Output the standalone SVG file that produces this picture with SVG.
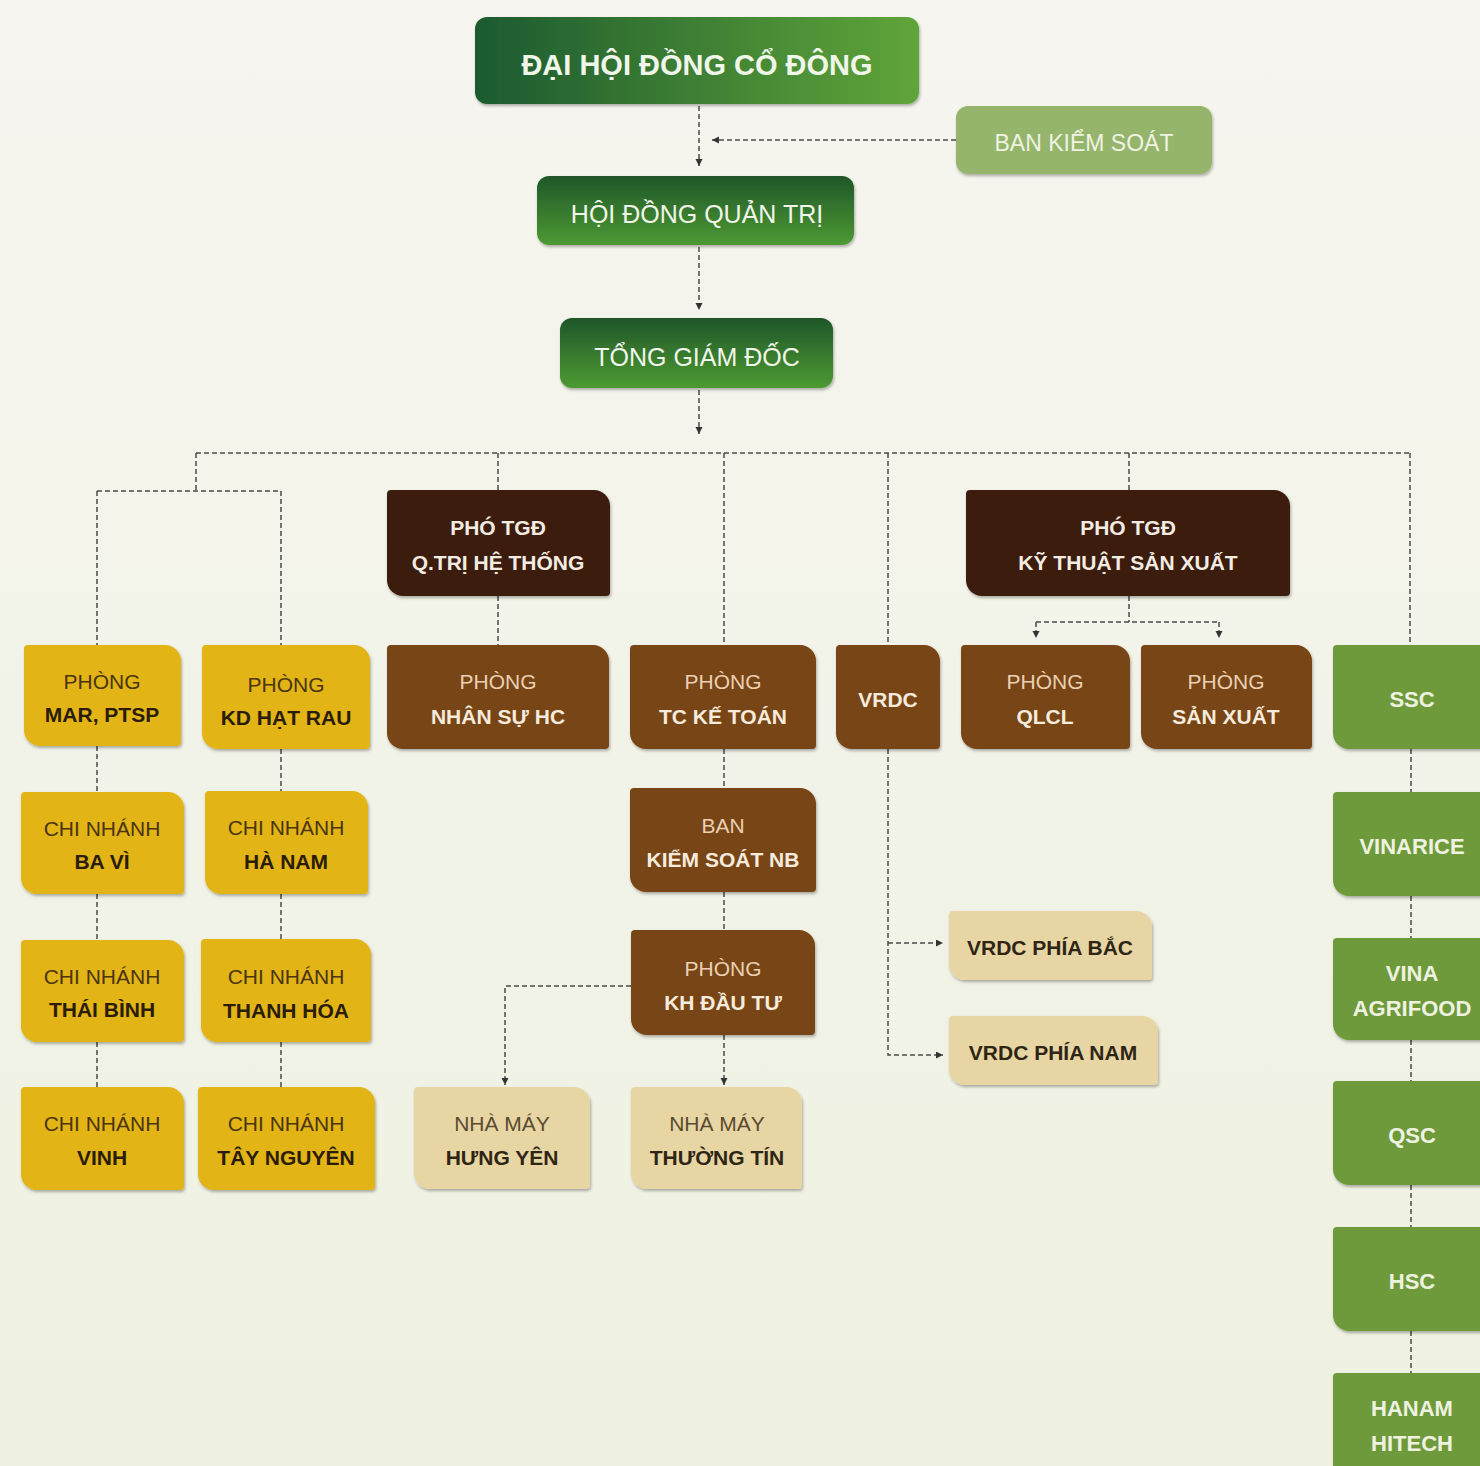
<svg xmlns="http://www.w3.org/2000/svg" width="1480" height="1466" viewBox="0 0 1480 1466">
<defs>
<linearGradient id="bg" x1="0" y1="0" x2="0" y2="1"><stop offset="0" stop-color="#f6f5ef"/><stop offset="1" stop-color="#eef1e1"/></linearGradient>
<linearGradient id="gH" x1="0" y1="0" x2="1" y2="0"><stop offset="0" stop-color="#1c5a2f"/><stop offset="1" stop-color="#60a53a"/></linearGradient>
<linearGradient id="gV" x1="0" y1="0" x2="0" y2="1"><stop offset="0" stop-color="#1f562b"/><stop offset="1" stop-color="#4d9a31"/></linearGradient>
<filter id="sh" x="-10%" y="-10%" width="120%" height="130%"><feDropShadow dx="1" dy="2" stdDeviation="1.5" flood-color="#000" flood-opacity="0.3"/></filter>
<marker id="ar" markerUnits="userSpaceOnUse" markerWidth="8" markerHeight="8" refX="7" refY="3.5" orient="auto"><path d="M0,0 L7,3.5 L0,7 z" fill="#333"/></marker>
<style>
text{font-family:"Liberation Sans",Arial,sans-serif;text-anchor:middle}
.yel{fill:#e2b412;filter:url(#sh)}
.dbr{fill:#3a1e0a;filter:url(#sh)}
.mbr{fill:#784416;filter:url(#sh)}
.bei{fill:#e7d6a4;filter:url(#sh)}
.grn{fill:#6e9a3b;filter:url(#sh)}
.y1{font-size:21px;fill:#4a3510}
.y2{font-size:21px;font-weight:bold;fill:#2a1c08}
.b1{font-size:21px;fill:#ebd0b3}
.b2{font-size:21px;font-weight:bold;fill:#f6ebdc}
.d2{font-size:21px;font-weight:bold;fill:#f3ece3}
.e1{font-size:21px;fill:#5a4a30}
.e2{font-size:21px;font-weight:bold;fill:#2f2514}
.g2{font-size:22px;font-weight:bold;fill:#eef2e0}
.top{fill:#f1f6ea}
.ln{fill:none;stroke:#4a4a4a;stroke-width:1.5;stroke-dasharray:5 3}
.la{fill:none;stroke:#4a4a4a;stroke-width:1.5;stroke-dasharray:5 3;marker-end:url(#ar)}
</style>
</defs>
<rect width="1480" height="1466" fill="url(#bg)"/>

<g id="connectors">
<path class="la" d="M699,106 V166"/>
<path class="la" d="M956,140 H712"/>
<path class="la" d="M699,247 V310"/>
<path class="la" d="M699,390 V434"/>
<path class="ln" d="M196,453 H1410"/>
<path class="ln" d="M196,453 V491 M97,491 H281 M97,491 V645 M281,491 V645"/>
<path class="ln" d="M498,453 V490 M498,596 V645"/>
<path class="ln" d="M724,453 V645"/>
<path class="ln" d="M888,453 V645"/>
<path class="ln" d="M1129,453 V490"/>
<path class="ln" d="M1410,453 V645"/>
<path class="ln" d="M1129,596 V622 M1036,622 H1219"/>
<path class="la" d="M1036,622 V638"/>
<path class="la" d="M1219,622 V638"/>
<path class="ln" d="M97,746 V792 M97,894 V940 M97,1042 V1087"/>
<path class="ln" d="M281,749 V791 M281,894 V939 M281,1042 V1087"/>
<path class="ln" d="M724,749 V788 M724,892 V930"/>
<path class="la" d="M724,1035 V1085"/>
<path class="la" d="M631,986 H505 V1085"/>
<path class="la" d="M888,749 V1055 H943"/>
<path class="la" d="M888,943 H943"/>
<path class="ln" d="M1411,749 V792 M1411,896 V938 M1411,1040 V1081 M1411,1185 V1227 M1411,1331 V1373"/>
</g>

<g id="dhdcd"><rect x="475" y="17" width="444" height="87" rx="12" fill="url(#gH)" filter="url(#sh)"/><text class="top" x="697" y="75" font-size="29" font-weight="bold">ĐẠI HỘI ĐỒNG CỔ ĐÔNG</text></g>
<g id="bks"><rect x="956" y="106" width="256" height="68" rx="12" fill="#95b56d" filter="url(#sh)"/><text x="1084" y="151" font-size="23" fill="#eef3e2">BAN KIỂM SOÁT</text></g>
<g id="hdqt"><rect x="537" y="176" width="317" height="69" rx="12" fill="url(#gV)" filter="url(#sh)"/><text class="top" x="697" y="223" font-size="25">HỘI ĐỒNG QUẢN TRỊ</text></g>
<g id="tgd"><rect x="560" y="318" width="273" height="70" rx="12" fill="url(#gV)" filter="url(#sh)"/><text class="top" x="697" y="366" font-size="25">TỔNG GIÁM ĐỐC</text></g>

<g id="mar"><path class="yel" d="M28,645 H165 A16,16 0 0 1 181,661 V742 A4,4 0 0 1 177,746 H40 A16,16 0 0 1 24,730 V649 A4,4 0 0 1 28,645 Z"/><text class="y1" x="102" y="689">PHÒNG</text><text class="y2" x="102" y="722">MAR, PTSP</text></g>
<g id="kdhr"><path class="yel" d="M206,645 H354 A16,16 0 0 1 370,661 V745 A4,4 0 0 1 366,749 H218 A16,16 0 0 1 202,733 V649 A4,4 0 0 1 206,645 Z"/><text class="y1" x="286" y="692">PHÒNG</text><text class="y2" x="286" y="725">KD HẠT RAU</text></g>
<g id="bavi"><path class="yel" d="M25,792 H168 A16,16 0 0 1 184,808 V890 A4,4 0 0 1 180,894 H37 A16,16 0 0 1 21,878 V796 A4,4 0 0 1 25,792 Z"/><text class="y1" x="102" y="836">CHI NHÁNH</text><text class="y2" x="102" y="869">BA VÌ</text></g>
<g id="hanam"><path class="yel" d="M209,791 H352 A16,16 0 0 1 368,807 V890 A4,4 0 0 1 364,894 H221 A16,16 0 0 1 205,878 V795 A4,4 0 0 1 209,791 Z"/><text class="y1" x="286" y="835">CHI NHÁNH</text><text class="y2" x="286" y="869">HÀ NAM</text></g>
<g id="thaibinh"><path class="yel" d="M25,940 H168 A16,16 0 0 1 184,956 V1038 A4,4 0 0 1 180,1042 H37 A16,16 0 0 1 21,1026 V944 A4,4 0 0 1 25,940 Z"/><text class="y1" x="102" y="984">CHI NHÁNH</text><text class="y2" x="102" y="1017">THÁI BÌNH</text></g>
<g id="thanhhoa"><path class="yel" d="M205,939 H355 A16,16 0 0 1 371,955 V1038 A4,4 0 0 1 367,1042 H217 A16,16 0 0 1 201,1026 V943 A4,4 0 0 1 205,939 Z"/><text class="y1" x="286" y="984">CHI NHÁNH</text><text class="y2" x="286" y="1018">THANH HÓA</text></g>
<g id="vinh"><path class="yel" d="M25,1087 H168 A16,16 0 0 1 184,1103 V1186 A4,4 0 0 1 180,1190 H37 A16,16 0 0 1 21,1174 V1091 A4,4 0 0 1 25,1087 Z"/><text class="y1" x="102" y="1131">CHI NHÁNH</text><text class="y2" x="102" y="1165">VINH</text></g>
<g id="taynguyen"><path class="yel" d="M202,1087 H359 A16,16 0 0 1 375,1103 V1186 A4,4 0 0 1 371,1190 H214 A16,16 0 0 1 198,1174 V1091 A4,4 0 0 1 202,1087 Z"/><text class="y1" x="286" y="1131">CHI NHÁNH</text><text class="y2" x="286" y="1165">TÂY NGUYÊN</text></g>

<g id="ptgd-qtht"><path class="dbr" d="M391,490 H594 A16,16 0 0 1 610,506 V592 A4,4 0 0 1 606,596 H403 A16,16 0 0 1 387,580 V494 A4,4 0 0 1 391,490 Z"/><text class="d2" x="498" y="535">PHÓ TGĐ</text><text class="d2" x="498" y="570">Q.TRỊ HỆ THỐNG</text></g>
<g id="ptgd-ktsx"><path class="dbr" d="M970,490 H1274 A16,16 0 0 1 1290,506 V592 A4,4 0 0 1 1286,596 H982 A16,16 0 0 1 966,580 V494 A4,4 0 0 1 970,490 Z"/><text class="d2" x="1128" y="535">PHÓ TGĐ</text><text class="d2" x="1128" y="570">KỸ THUẬT SẢN XUẤT</text></g>

<g id="nhansu"><path class="mbr" d="M391,645 H593 A16,16 0 0 1 609,661 V745 A4,4 0 0 1 605,749 H403 A16,16 0 0 1 387,733 V649 A4,4 0 0 1 391,645 Z"/><text class="b1" x="498" y="689">PHÒNG</text><text class="b2" x="498" y="724">NHÂN SỰ HC</text></g>
<g id="ketoan"><path class="mbr" d="M634,645 H800 A16,16 0 0 1 816,661 V745 A4,4 0 0 1 812,749 H646 A16,16 0 0 1 630,733 V649 A4,4 0 0 1 634,645 Z"/><text class="b1" x="723" y="689">PHÒNG</text><text class="b2" x="723" y="724">TC KẾ TOÁN</text></g>
<g id="vrdc"><path class="mbr" d="M840,645 H924 A16,16 0 0 1 940,661 V745 A4,4 0 0 1 936,749 H852 A16,16 0 0 1 836,733 V649 A4,4 0 0 1 840,645 Z"/><text class="b2" x="888" y="707">VRDC</text></g>
<g id="qlcl"><path class="mbr" d="M965,645 H1114 A16,16 0 0 1 1130,661 V745 A4,4 0 0 1 1126,749 H977 A16,16 0 0 1 961,733 V649 A4,4 0 0 1 965,645 Z"/><text class="b1" x="1045" y="689">PHÒNG</text><text class="b2" x="1045" y="724">QLCL</text></g>
<g id="sanxuat"><path class="mbr" d="M1145,645 H1296 A16,16 0 0 1 1312,661 V745 A4,4 0 0 1 1308,749 H1157 A16,16 0 0 1 1141,733 V649 A4,4 0 0 1 1145,645 Z"/><text class="b1" x="1226" y="689">PHÒNG</text><text class="b2" x="1226" y="724">SẢN XUẤT</text></g>
<g id="bksnb"><path class="mbr" d="M634,788 H800 A16,16 0 0 1 816,804 V888 A4,4 0 0 1 812,892 H646 A16,16 0 0 1 630,876 V792 A4,4 0 0 1 634,788 Z"/><text class="b1" x="723" y="833">BAN</text><text class="b2" x="723" y="867">KIỂM SOÁT NB</text></g>
<g id="khdautu"><path class="mbr" d="M635,930 H799 A16,16 0 0 1 815,946 V1031 A4,4 0 0 1 811,1035 H647 A16,16 0 0 1 631,1019 V934 A4,4 0 0 1 635,930 Z"/><text class="b1" x="723" y="976">PHÒNG</text><text class="b2" x="723" y="1010">KH ĐẦU TƯ</text></g>

<g id="hungyen"><path class="bei" d="M418,1087 H574 A16,16 0 0 1 590,1103 V1185 A4,4 0 0 1 586,1189 H430 A16,16 0 0 1 414,1173 V1091 A4,4 0 0 1 418,1087 Z"/><text class="e1" x="502" y="1131">NHÀ MÁY</text><text class="e2" x="502" y="1165">HƯNG YÊN</text></g>
<g id="thuongtin"><path class="bei" d="M635,1087 H786 A16,16 0 0 1 802,1103 V1185 A4,4 0 0 1 798,1189 H647 A16,16 0 0 1 631,1173 V1091 A4,4 0 0 1 635,1087 Z"/><text class="e1" x="717" y="1131">NHÀ MÁY</text><text class="e2" x="717" y="1165">THƯỜNG TÍN</text></g>
<g id="vrdc-bac"><path class="bei" d="M953,911 H1136 A16,16 0 0 1 1152,927 V976 A4,4 0 0 1 1148,980 H965 A16,16 0 0 1 949,964 V915 A4,4 0 0 1 953,911 Z"/><text class="e2" x="1050" y="955">VRDC PHÍA BẮC</text></g>
<g id="vrdc-nam"><path class="bei" d="M953,1016 H1142 A16,16 0 0 1 1158,1032 V1081 A4,4 0 0 1 1154,1085 H965 A16,16 0 0 1 949,1069 V1020 A4,4 0 0 1 953,1016 Z"/><text class="e2" x="1053" y="1060">VRDC PHÍA NAM</text></g>

<g id="ssc"><path class="grn" d="M1337,645 H1500 V749 H1349 A16,16 0 0 1 1333,733 V649 A4,4 0 0 1 1337,645 Z"/><text class="g2" x="1412" y="707">SSC</text></g>
<g id="vinarice"><path class="grn" d="M1337,792 H1500 V896 H1349 A16,16 0 0 1 1333,880 V796 A4,4 0 0 1 1337,792 Z"/><text class="g2" x="1412" y="854">VINARICE</text></g>
<g id="vinaagrifood"><path class="grn" d="M1337,938 H1500 V1040 H1349 A16,16 0 0 1 1333,1024 V942 A4,4 0 0 1 1337,938 Z"/><text class="g2" x="1412" y="981">VINA</text><text class="g2" x="1412" y="1016">AGRIFOOD</text></g>
<g id="qsc"><path class="grn" d="M1337,1081 H1500 V1185 H1349 A16,16 0 0 1 1333,1169 V1085 A4,4 0 0 1 1337,1081 Z"/><text class="g2" x="1412" y="1143">QSC</text></g>
<g id="hsc"><path class="grn" d="M1337,1227 H1500 V1331 H1349 A16,16 0 0 1 1333,1315 V1231 A4,4 0 0 1 1337,1227 Z"/><text class="g2" x="1412" y="1289">HSC</text></g>
<g id="hanamhitech"><path class="grn" d="M1337,1373 H1500 V1480 H1333 V1377 A4,4 0 0 1 1337,1373 Z"/><text class="g2" x="1412" y="1416">HANAM</text><text class="g2" x="1412" y="1451">HITECH</text></g>
</svg>
